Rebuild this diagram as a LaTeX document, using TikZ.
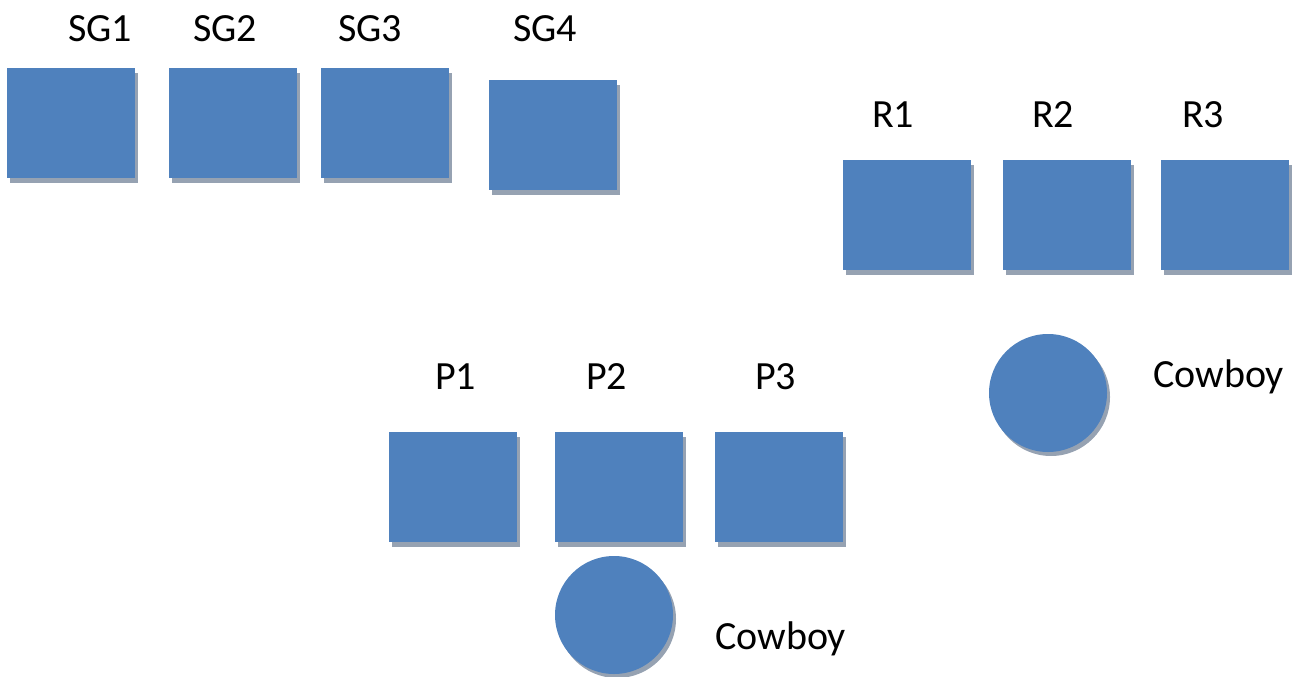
\documentclass[tikz,border=0pt]{standalone}
\usepackage{fontspec}
\setmainfont{Carlito}
\usetikzlibrary{shadows}
\definecolor{boxblue}{RGB}{79,129,189}
\definecolor{shadowc}{RGB}{150,162,178}
\begin{document}
\begin{tikzpicture}[x=1pt,y=-1pt,
  sq/.style={fill=boxblue, draw=none, inner sep=0pt, minimum width=128pt, minimum height=110pt, anchor=north west,
    drop shadow={shadow xshift=3pt, shadow yshift=-5pt, fill=shadowc, opacity=1}},
  ball/.style={circle, fill=boxblue, draw=none, inner sep=0pt, minimum size=118pt,
    drop shadow={shadow xshift=3pt, shadow yshift=-4pt, fill=shadowc, opacity=1}},
  lbl/.style={anchor=base west, inner sep=0pt, font=\fontsize{40}{48}\selectfont}]
\useasboundingbox (0,0) rectangle (1304,677);
% squares
\node[sq] (sg1) at (7,68) {};
\node[sq] (sg2) at (169,68) {};
\node[sq] (sg3) at (321,68) {};
\node[sq] (sg4) at (489,80) {};
\node[sq] (r1) at (843,160) {};
\node[sq] (r2) at (1003,160) {};
\node[sq] (r3) at (1161,160) {};
\node[sq] (p1) at (389,432) {};
\node[sq] (p2) at (555,432) {};
\node[sq] (p3) at (715,432) {};
% circles
\node[ball] (cr) at (1048,393) {};
\node[ball] (cp) at (614,615) {};
% labels
\node[lbl] (tsg1) at (68,42) {SG1};
\node[lbl] (tsg2) at (193,42) {SG2};
\node[lbl] (tsg3) at (338,42) {SG3};
\node[lbl] (tsg4) at (513,42) {SG4};
\node[lbl] (tr1) at (872,127) {R1};
\node[lbl] (tr2) at (1032,127) {R2};
\node[lbl] (tr3) at (1182,127) {R3};
\node[lbl] (tp1) at (435,389) {P1};
\node[lbl] (tp2) at (586,389) {P2};
\node[lbl] (tp3) at (755,389) {P3};
\node[lbl] (tcr) at (1153,387) {Cowboy};
\node[lbl] (tcp) at (715,649) {Cowboy};
\end{tikzpicture}
\end{document}
